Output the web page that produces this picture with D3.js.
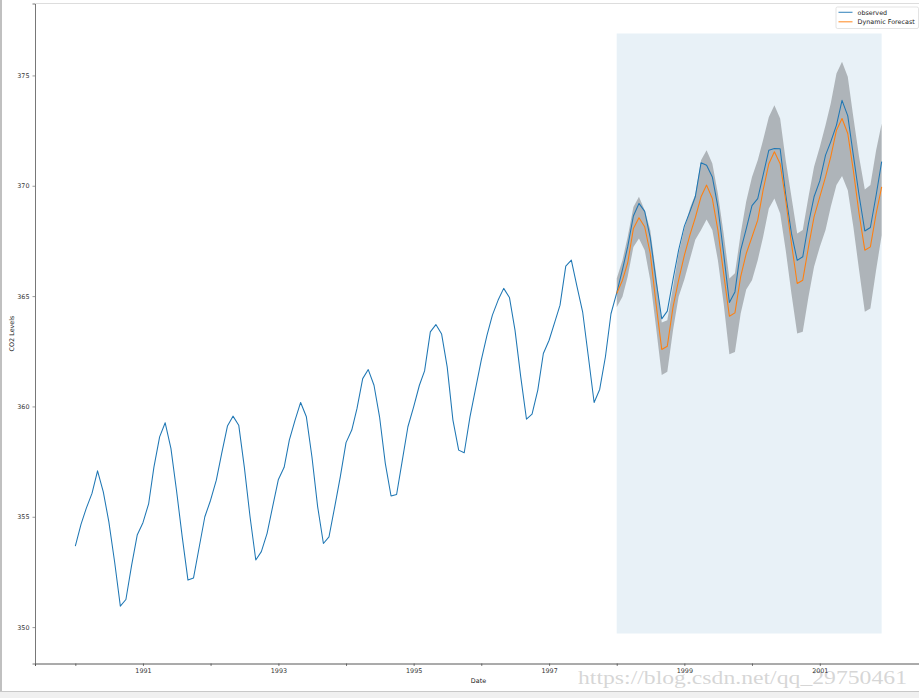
<!DOCTYPE html>
<html>
<head>
<meta charset="utf-8">
<script src="https://cdn.jsdelivr.net/npm/d3@7"></script>
<style>
  html, body { margin: 0; padding: 0; background: #ffffff; }
  svg { display: block; font-family: "DejaVu Sans", sans-serif; }
</style>
</head>
<body>
<svg id="chart" width="919" height="698"></svg>
<script>
// ---------------- data ----------------
const startYear = 1990;              // observed series starts Jan 1990, monthly
const forecastStart = "1998-01-01";  // dynamic forecast starts Jan 1998

const observed = [
  // 1990
  353.67, 354.67, 355.38, 356.06, 357.08, 356.13, 354.77, 352.96, 350.95, 351.25, 352.81, 354.17,
  // 1991
  354.73, 355.60, 357.24, 358.62, 359.26, 358.10, 356.20, 354.09, 352.13, 352.23, 353.64, 355.00,
  // 1992
  355.75, 356.66, 357.87, 359.11, 359.56, 359.15, 357.26, 355.00, 353.04, 353.42, 354.25, 355.46,
  // 1993
  356.69, 357.24, 358.47, 359.38, 360.18, 359.53, 357.72, 355.45, 353.79, 354.09, 355.45, 356.81,
  // 1994
  358.36, 358.93, 359.90, 361.26, 361.67, 360.96, 359.53, 357.42, 355.94, 356.01, 357.57, 359.08,
  // 1995
  359.98, 360.96, 361.61, 363.38, 363.71, 363.28, 361.79, 359.38, 358.02, 357.90, 359.53, 360.80,
  // 1996
  362.10, 363.23, 364.14, 364.82, 365.35, 364.94, 363.46, 361.34, 359.42, 359.65, 360.74, 362.40,
  // 1997
  363.00, 363.83, 364.59, 366.36, 366.63, 365.42, 364.29, 362.25, 360.18, 360.77, 362.25, 364.20,
  // 1998
  365.15, 366.20, 367.23, 368.63, 369.20, 368.84, 367.64, 365.72, 363.97, 364.32, 365.76, 367.08,
  // 1999
  368.17, 368.85, 369.50, 371.04, 370.93, 370.40, 369.04, 366.93, 364.71, 365.19, 367.08, 368.05,
  // 2000
  369.10, 369.42, 370.48, 371.61, 371.69, 371.68, 369.60, 367.84, 366.62, 366.78, 368.29, 369.50,
  // 2001
  370.22, 371.39, 371.99, 372.75, 373.87, 373.17, 371.39, 369.57, 367.95, 368.11, 369.57, 371.09
];

const forecast = [
  // 1998
  365.12, 365.72, 366.50, 368.06, 368.55, 368.14, 366.93, 364.67, 362.58, 362.73, 364.51, 365.72,
  // 1999
  366.85, 367.80, 368.55, 369.50, 370.03, 369.42, 367.99, 366.03, 364.09, 364.24, 365.88, 366.93,
  // 2000
  367.68, 368.44, 369.80, 371.00, 371.54, 371.00, 369.35, 367.39, 365.57, 365.72, 367.23, 368.59,
  // 2001
  369.50, 370.40, 371.31, 372.52, 373.05, 372.37, 370.70, 368.74, 367.08, 367.23, 368.74, 369.95
];

const ciUpper = [
  365.80, 366.63, 367.68, 369.04, 369.50, 368.89, 367.99, 366.03, 363.80, 363.91, 365.42, 366.93,
  368.05, 369.00, 369.60, 371.16, 371.61, 371.01, 369.65, 367.84, 365.80, 366.03, 367.84, 369.30,
  370.40, 371.16, 372.07, 373.12, 373.65, 373.05, 371.16, 369.50, 367.84, 367.99, 369.50, 370.86,
  371.76, 372.75, 373.73, 375.09, 375.62, 374.94, 373.12, 371.31, 369.83, 370.03, 371.61, 372.82
];

const ciLower = [
  364.50, 364.97, 365.88, 367.23, 367.61, 367.08, 365.72, 363.60, 361.42, 361.57, 363.46, 364.97,
  365.75, 366.70, 367.55, 367.99, 368.47, 367.99, 366.63, 364.67, 362.37, 362.47, 364.21, 365.30,
  365.72, 366.63, 367.68, 368.97, 369.42, 368.74, 367.08, 365.11, 363.31, 363.38, 364.97, 366.33,
  367.23, 367.99, 369.04, 370.03, 370.44, 369.80, 368.14, 366.18, 364.29, 364.44, 366.18, 367.76
];

const shadeLimits = [349.71, 376.9];            // y-limits captured for the shaded forecast window
const yTickValues = [350, 355, 360, 365, 370, 375];
const xTickYears = [1990, 1991, 1992, 1993, 1994, 1995, 1996, 1997, 1998, 1999, 2000, 2001];
const xLabelYears = [1991, 1993, 1995, 1997, 1999, 2001];
const legendLabels = ["observed", "Dynamic Forecast"];
const axisLabels = { x: "Date", y: "CO2 Levels" };
const watermark = "https://blog.csdn.net/qq_29750461";

// ---------------- build ----------------
const month = (i, y0, m0) => new Date(y0, m0 + i, 1);
const obsData = observed.map((v, i) => ({ date: month(i, startYear, 0), v }));
const fcStart = new Date(forecastStart + "T00:00:00");
const fcData = forecast.map((v, i) => ({
  date: month(i, fcStart.getFullYear(), fcStart.getMonth()),
  v, lo: ciLower[i], hi: ciUpper[i]
}));

const svg = d3.select("#chart");
const W = 919, H = 698;
const plot = { left: 35, right: 922, top: 3.5, bottom: 663.5 };

// x domain with 5% margins like matplotlib
const t0 = obsData[0].date.getTime(), t1 = obsData[obsData.length - 1].date.getTime();
const span = t1 - t0;
const x = d3.scaleTime()
  .domain([new Date(t0 - 0.05 * span), new Date(t1 + 0.05 * span)])
  .range([plot.left, plot.right]);

// y domain: shade limits plus 5% margins
const ySpan = shadeLimits[1] - shadeLimits[0];
const y = d3.scaleLinear()
  .domain([shadeLimits[0] - 0.05 * ySpan, shadeLimits[1] + 0.05 * ySpan])
  .range([plot.bottom, plot.top]);

// window frame pieces of the screenshot
svg.append("rect").attr("x", 0).attr("y", 0).attr("width", W).attr("height", H).attr("fill", "#ffffff");
svg.append("rect").attr("x", 0).attr("y", 691).attr("width", W).attr("height", 7).attr("fill", "#f0f0f0");
svg.append("line").attr("x1", 0).attr("x2", W).attr("y1", 691.5).attr("y2", 691.5).attr("stroke", "#c8c8c8").attr("stroke-width", 1.2);
svg.append("line").attr("x1", 1).attr("x2", 1).attr("y1", 0).attr("y2", 691).attr("stroke", "#c0c0c0").attr("stroke-width", 2);

// watermark (under axes text)
svg.append("text").attr("x", 578).attr("y", 684)
  .attr("font-family", "Liberation Serif, serif").attr("font-size", 18.5)
  .attr("textLength", 329).attr("lengthAdjust", "spacingAndGlyphs")
  .attr("fill", "#cfcfcf").attr("fill-opacity", 0.85).text(watermark);

svg.append("defs").append("clipPath").attr("id", "clip")
  .append("rect").attr("x", plot.left).attr("y", plot.top)
  .attr("width", plot.right - plot.left).attr("height", plot.bottom - plot.top);

const g = svg.append("g").attr("clip-path", "url(#clip)");

// shaded forecast window
g.append("rect")
  .attr("x", x(fcData[0].date))
  .attr("width", x(obsData[obsData.length - 1].date) - x(fcData[0].date))
  .attr("y", y(shadeLimits[1]))
  .attr("height", y(shadeLimits[0]) - y(shadeLimits[1]))
  .attr("fill", "#1f77b4").attr("fill-opacity", 0.1);

// confidence band
g.append("path").datum(fcData)
  .attr("d", d3.area().x(d => x(d.date)).y0(d => y(d.lo)).y1(d => y(d.hi)))
  .attr("fill", "#000000").attr("fill-opacity", 0.25);

// observed line
g.append("path").datum(obsData)
  .attr("d", d3.line().x(d => x(d.date)).y(d => y(d.v)))
  .attr("fill", "none").attr("stroke", "#1f77b4").attr("stroke-width", 1.05)
  .attr("stroke-linejoin", "round");

// forecast line
g.append("path").datum(fcData)
  .attr("d", d3.line().x(d => x(d.date)).y(d => y(d.v)))
  .attr("fill", "none").attr("stroke", "#ff7f0e").attr("stroke-width", 1.05)
  .attr("stroke-linejoin", "round");

// axes
const fontSize = 6.4;
const xAxis = d3.axisBottom(x)
  .tickValues(xTickYears.map(yr => new Date(yr, 0, 1)))
  .tickSize(2.5).tickPadding(2)
  .tickFormat(d => xLabelYears.includes(d.getFullYear()) ? String(d.getFullYear()) : "");
const gx = svg.append("g").attr("transform", `translate(0,${plot.bottom})`).call(xAxis);
gx.select(".domain").attr("stroke", "#444").attr("stroke-width", 0.9);
gx.selectAll(".tick line").attr("stroke", "#444").attr("stroke-width", 0.7);
gx.selectAll(".tick text").attr("font-size", fontSize).attr("fill", "#333").attr("font-family", "DejaVu Sans");

const yAxis = d3.axisLeft(y).tickValues(yTickValues).tickSize(2.5).tickPadding(3)
  .tickFormat(d3.format("d"));
const gy = svg.append("g").attr("transform", `translate(${plot.left},0)`).call(yAxis);
gy.select(".domain").attr("stroke", "#555").attr("stroke-width", 0.8);
gy.selectAll(".tick line").attr("stroke", "#555").attr("stroke-width", 0.6);
gy.selectAll(".tick text").attr("font-size", fontSize).attr("fill", "#333").attr("font-family", "DejaVu Sans");

// top edge (light)
svg.append("line").attr("x1", plot.left).attr("x2", W).attr("y1", plot.top).attr("y2", plot.top)
  .attr("stroke", "#dddddd").attr("stroke-width", 1);

// axis labels
svg.append("text").attr("x", (plot.left + plot.right) / 2).attr("y", 683)
  .attr("text-anchor", "middle").attr("font-size", fontSize).attr("fill", "#222").text(axisLabels.x);
svg.append("text").attr("transform", `translate(14,${(plot.top + plot.bottom) / 2}) rotate(-90)`)
  .attr("text-anchor", "middle").attr("font-size", fontSize).attr("fill", "#222").text(axisLabels.y);

// legend
const leg = svg.append("g").attr("transform", "translate(836,7)");
leg.append("rect").attr("width", 82.5).attr("height", 21.5).attr("rx", 1.5)
  .attr("fill", "#ffffff").attr("fill-opacity", 0.9).attr("stroke", "#d0d0d0").attr("stroke-width", 0.6);
const legColors = ["#1f77b4", "#ff7f0e"];
legendLabels.forEach((lab, i) => {
  const yy = 5.3 + i * 9.5;
  leg.append("line").attr("x1", 2.5).attr("x2", 16.5).attr("y1", yy).attr("y2", yy)
    .attr("stroke", legColors[i]).attr("stroke-width", 1.1).attr("stroke-opacity", 0.85);
  leg.append("text").attr("x", 21.5).attr("y", yy + 2.2).attr("font-size", fontSize)
    .attr("fill", "#222").text(lab);
});
</script>
</body>
</html>
